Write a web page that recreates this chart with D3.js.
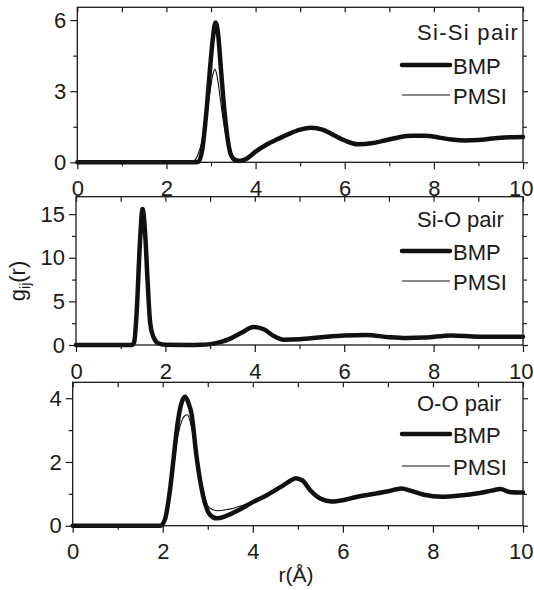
<!DOCTYPE html>
<html>
<head>
<meta charset="utf-8">
<script src="https://cdn.jsdelivr.net/npm/d3@7"></script>
<style>
  html, body { margin: 0; padding: 0; background: #fff; }
  svg { display: block; }
  text { font-family: "Liberation Sans", Arial, Helvetica, sans-serif; fill: #1a1a1a; }
</style>
</head>
<body>
<svg id="chart" width="534" height="590"></svg>
<script>
// ---------------- data ----------------
const xMajorTicks = [0, 2, 4, 6, 8, 10];
const xMinorTicks = [1, 3, 5, 7, 9];
const seriesNames = ["BMP", "PMSI"];
const panelTitles = ["Si-Si pair", "Si-O pair", "O-O pair"];
const xLabel = "r(Å)";

// Si-Si pair
const siSiYTicks = [0, 3, 6];
const siSiYMinor = [1.5, 4.5];
const siSiBmpR = [0, 2.6, 2.72, 2.8, 2.9, 2.98, 3.04, 3.1, 3.16, 3.22, 3.3, 3.38, 3.45, 3.55, 3.65, 3.8, 4.0, 4.25, 4.5, 4.75, 5.0, 5.25, 5.5, 5.75, 6.0, 6.3, 6.6, 6.9, 7.2, 7.5, 7.8, 8.1, 8.4, 8.7, 9.0, 9.3, 9.6, 10];
const siSiBmpG = [0, 0, 0.02, 0.5, 2.2, 4.0, 5.2, 5.9, 5.4, 4.0, 2.2, 0.9, 0.3, 0.08, 0.05, 0.15, 0.45, 0.75, 0.98, 1.2, 1.38, 1.46, 1.38, 1.15, 0.92, 0.76, 0.8, 0.92, 1.05, 1.12, 1.12, 1.05, 0.96, 0.92, 0.94, 1.0, 1.05, 1.07];
const siSiPmsiR = [0, 2.5, 2.6, 2.7, 2.8, 2.9, 2.98, 3.04, 3.09, 3.14, 3.2, 3.28, 3.36, 3.45, 3.55, 3.65, 3.8, 4.0, 4.25, 4.5, 4.75, 5.0, 5.25, 5.5, 5.75, 6.0, 6.3, 6.6, 6.9, 7.2, 7.5, 7.8, 8.1, 8.4, 8.7, 9.0, 9.3, 9.6, 10];
const siSiPmsiG = [0, 0, 0.03, 0.3, 0.9, 1.9, 3.0, 3.7, 3.92, 3.6, 2.8, 1.7, 0.9, 0.4, 0.17, 0.12, 0.22, 0.5, 0.78, 1.0, 1.2, 1.37, 1.45, 1.37, 1.14, 0.92, 0.77, 0.8, 0.92, 1.05, 1.12, 1.12, 1.05, 0.96, 0.92, 0.94, 1.0, 1.05, 1.07];

// Si-O pair
const siOYTicks = [0, 5, 10, 15];
const siOYMinor = [2.5, 7.5, 12.5];
const siOBmpR = [0, 1.25, 1.3, 1.36, 1.43, 1.49, 1.55, 1.6, 1.66, 1.73, 1.84, 2.0, 2.5, 2.8, 3.0, 3.2, 3.44, 3.7, 3.97, 4.2, 4.4, 4.65, 5.0, 5.5, 6.0, 6.5, 7.0, 7.4, 7.8, 8.4, 9.0, 9.5, 10];
const siOBmpG = [0, 0, 0.3, 4.0, 11.7, 15.6, 12.5, 7.5, 2.5, 0.96, 0.2, 0.02, 0, 0.02, 0.1, 0.3, 0.7, 1.4, 2.05, 1.8, 1.1, 0.6, 0.65, 0.9, 1.1, 1.15, 0.9, 0.8, 0.85, 1.1, 0.95, 0.95, 0.95];
const siOPmsiR = [0, 1.25, 1.3, 1.36, 1.43, 1.49, 1.55, 1.6, 1.66, 1.73, 1.84, 2.0, 2.5, 2.8, 3.0, 3.2, 3.44, 3.7, 3.97, 4.2, 4.4, 4.65, 5.0, 5.5, 6.0, 6.5, 7.0, 7.4, 7.8, 8.4, 9.0, 9.5, 10];
const siOPmsiG = [0, 0, 0.3, 3.9, 11.5, 15.4, 12.4, 7.5, 2.6, 1.0, 0.22, 0.02, 0, 0.02, 0.1, 0.3, 0.7, 1.4, 2.0, 1.8, 1.1, 0.62, 0.66, 0.9, 1.1, 1.14, 0.9, 0.8, 0.86, 1.08, 0.95, 0.95, 0.95];

// O-O pair
const ooYTicks = [0, 2, 4];
const ooYMinor = [1, 3];
const ooBmpR = [0, 1.95, 2.05, 2.16, 2.24, 2.31, 2.38, 2.44, 2.5, 2.57, 2.64, 2.75, 2.9, 3.05, 3.2, 3.4, 3.7, 4.0, 4.3, 4.6, 4.8, 4.95, 5.1, 5.27, 5.5, 5.75, 6.0, 6.3, 6.7, 7.0, 7.3, 7.5, 7.8, 8.2, 8.6, 9.0, 9.3, 9.5, 9.7, 10];
const ooBmpG = [0, 0, 0.2, 1.12, 2.1, 3.0, 3.64, 3.95, 4.05, 3.85, 3.5, 2.17, 0.91, 0.34, 0.23, 0.3, 0.5, 0.74, 0.95, 1.2, 1.38, 1.49, 1.42, 1.12, 0.85, 0.76, 0.8, 0.9, 1.0, 1.08, 1.17, 1.1, 0.97, 0.91, 0.95, 1.02, 1.1, 1.15, 1.06, 1.04];
const ooPmsiR = [0, 1.95, 2.05, 2.16, 2.24, 2.31, 2.38, 2.45, 2.5, 2.55, 2.62, 2.7, 2.8, 2.9, 3.01, 3.12, 3.23, 3.4, 3.57, 3.8, 4.0, 4.3, 4.6, 4.8, 4.95, 5.1, 5.27, 5.5, 5.75, 6.0, 6.3, 6.7, 7.0, 7.3, 7.5, 7.8, 8.2, 8.6, 9.0, 9.3, 9.5, 9.7, 10];
const ooPmsiG = [0, 0, 0.15, 0.9, 1.8, 2.6, 3.1, 3.38, 3.46, 3.48, 3.2, 2.6, 1.8, 1.1, 0.6, 0.5, 0.47, 0.5, 0.55, 0.65, 0.76, 0.95, 1.18, 1.36, 1.46, 1.4, 1.08, 0.8, 0.72, 0.78, 0.9, 1.0, 1.08, 1.17, 1.1, 0.97, 0.91, 0.95, 1.02, 1.1, 1.15, 1.06, 1.04];

// ---------------- layout ----------------
const panels = [
  { title: panelTitles[0], left: 77.3, right: 523, top: 7.3, bottom: 162.3, ymax: 6.54,
    yTicks: siSiYTicks, yMinor: siSiYMinor,
    series: [[siSiBmpR, siSiBmpG], [siSiPmsiR, siSiPmsiG]],
    titleBase: 40, titleSpacing: 1.3, leg: [74, 104] },
  { title: panelTitles[1], left: 76, right: 523, top: 196.7, bottom: 345, ymax: 17.0,
    yTicks: siOYTicks, yMinor: siOYMinor,
    series: [[siOBmpR, siOBmpG], [siOPmsiR, siOPmsiG]],
    titleBase: 227, titleSpacing: 0, leg: [260, 290] },
  { title: panelTitles[2], left: 72.7, right: 523, top: 382.3, bottom: 525.7, ymax: 4.5,
    yTicks: ooYTicks, yMinor: ooYMinor,
    series: [[ooBmpR, ooBmpG], [ooPmsiR, ooPmsiG]],
    titleBase: 411, titleSpacing: 0, leg: [443, 475] }
];

const svg = d3.select("#chart");
const styles = [{ w: 4.5 }, { w: 1.1 }];

panels.forEach((p, pi) => {
  const g = svg.append("g");
  const x = d3.scaleLinear().domain([0, 10]).range([p.left, p.right]);
  const y = d3.scaleLinear().domain([0, p.ymax]).range([p.bottom, p.top]);

  const line = d3.line().x(d => x(d[0])).y(d => y(d[1])).curve(d3.curveMonotoneX);
  [0, 1].forEach(si => {
    const [rs, gs] = p.series[si];
    const pts = rs.map((r, i) => [r, gs[i]]);
    g.append("path").datum(pts)
      .attr("d", line)
      .attr("fill", "none")
      .attr("stroke", "#111")
      .attr("stroke-width", styles[si].w)
      .attr("stroke-linejoin", "round")
      .attr("stroke-linecap", "round");
  });

  const fs = 22;
  const bottomMaj = d3.axisBottom(x).tickValues(xMajorTicks).tickSizeInner(7).tickSizeOuter(0).tickPadding(11).tickFormat(d3.format("d"));
  const bottomMin = d3.axisBottom(x).tickValues(xMinorTicks).tickSizeInner(4).tickSizeOuter(0).tickFormat("");
  const topAll = d3.axisTop(x).tickValues(d3.range(0, 11)).tickSizeInner(-5).tickSizeOuter(0).tickFormat("");
  const leftMaj = d3.axisLeft(y).tickValues(p.yTicks).tickSizeInner(7).tickSizeOuter(0).tickPadding(4).tickFormat(d3.format("d"));
  const leftMin = d3.axisLeft(y).tickValues(p.yMinor).tickSizeInner(4).tickSizeOuter(0).tickFormat("");
  const rightMaj = d3.axisRight(y).tickValues(p.yTicks).tickSizeInner(5).tickSizeOuter(0).tickFormat("");
  const rightMin = d3.axisRight(y).tickValues(p.yMinor).tickSizeInner(4).tickSizeOuter(0).tickFormat("");

  const ax = [
    [bottomMaj, `translate(0,${p.bottom})`],
    [bottomMin, `translate(0,${p.bottom})`],
    [topAll, `translate(0,${p.top})`],
    [leftMaj, `translate(${p.left},0)`],
    [leftMin, `translate(${p.left},0)`],
    [rightMaj, `translate(${p.right},0)`],
    [rightMin, `translate(${p.right},0)`]
  ];
  ax.forEach(([a, t], ai) => {
    const gg = g.append("g").attr("transform", t).call(a);
    gg.select(".domain").remove();
    gg.selectAll("line").attr("stroke", "#1a1a1a").attr("stroke-width", 1.2);
    gg.selectAll("text").attr("font-size", fs).attr("font-family", "Liberation Sans, Arial, sans-serif").attr("fill", "#1a1a1a");
    if (ai === 0) {
      // keep the last label ("10") inside the page edge
      gg.selectAll(".tick text").filter(d => d === 10).attr("text-anchor", "end").attr("x", 533 - p.right);
    }
  });

  g.append("rect")
    .attr("x", p.left).attr("y", p.top)
    .attr("width", p.right - p.left).attr("height", p.bottom - p.top)
    .attr("fill", "none").attr("stroke", "#1a1a1a").attr("stroke-width", 1.3);

  // legend
  g.append("text").attr("x", 417).attr("y", p.titleBase).attr("font-size", 22)
    .attr("letter-spacing", p.titleSpacing).text(p.title);
  seriesNames.forEach((nm, si) => {
    const by = p.leg[si];
    g.append("line").attr("x1", 402).attr("x2", 450).attr("y1", by - 9).attr("y2", by - 9)
      .attr("stroke", "#111").attr("stroke-width", styles[si].w).attr("stroke-linecap", si === 0 ? "round" : "butt");
    g.append("text").attr("x", 453).attr("y", by).attr("font-size", 22).text(nm);
  });
});

// y-axis label
const yl = svg.append("text")
  .attr("transform", "translate(25,281) rotate(-90)")
  .attr("text-anchor", "middle")
  .attr("font-size", 22);
yl.append("tspan").text("g");
yl.append("tspan").attr("font-size", 14).attr("dy", 5).text("ij");
yl.append("tspan").attr("dy", -5).text("(r)");

// x-axis label
svg.append("text").attr("x", 296).attr("y", 582).attr("text-anchor", "middle").attr("font-size", 21).text(xLabel);
</script>
</body>
</html>
